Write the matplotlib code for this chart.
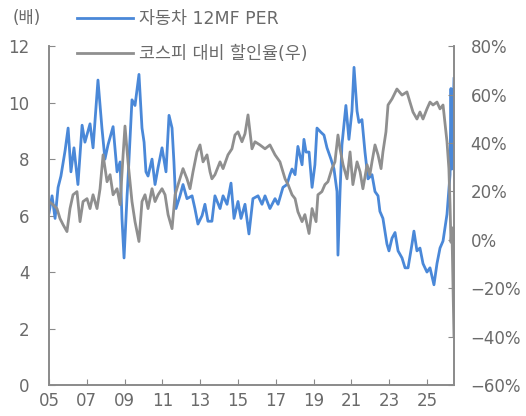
import matplotlib
matplotlib.use("Agg")
import matplotlib.pyplot as plt

plt.rcParams["font.family"] = ["DejaVu Sans", "Noto Sans CJK KR"]
plt.rcParams["axes.unicode_minus"] = True

# data (decimal year, value)
per_year = [2005.00, 2005.16, 2005.32, 2005.48, 2005.63, 2005.85, 2006.01, 2006.16, 2006.32, 2006.53,
            2006.75, 2006.90, 2007.17, 2007.33, 2007.59, 2007.80, 2007.96, 2008.12, 2008.39, 2008.60,
            2008.76, 2008.86, 2008.97, 2009.13, 2009.18, 2009.39, 2009.55, 2009.76, 2009.92, 2010.03,
            2010.13, 2010.24, 2010.45, 2010.61, 2010.77, 2010.98, 2011.19, 2011.35, 2011.51, 2011.61,
            2011.72, 2011.93, 2012.09, 2012.30, 2012.57, 2012.72, 2012.88, 2013.10, 2013.25, 2013.41,
            2013.62, 2013.78, 2014.05, 2014.21, 2014.42, 2014.63, 2014.79, 2015.00, 2015.16, 2015.37,
            2015.58, 2015.79, 2016.06, 2016.27, 2016.43, 2016.69, 2016.96, 2017.12, 2017.38, 2017.59,
            2017.75, 2017.86, 2018.02, 2018.17, 2018.39, 2018.49, 2018.60, 2018.76, 2018.92, 2019.07,
            2019.18, 2019.39, 2019.55, 2019.71, 2019.92, 2020.08, 2020.24, 2020.29, 2020.40, 2020.50,
            2020.71, 2020.87, 2021.03, 2021.14, 2021.30, 2021.40, 2021.56, 2021.72, 2021.88, 2022.09,
            2022.25, 2022.41, 2022.51, 2022.67, 2022.88, 2022.99, 2023.15, 2023.31, 2023.47, 2023.68,
            2023.84, 2024.00, 2024.21, 2024.31, 2024.47, 2024.63, 2024.79, 2025.00, 2025.16, 2025.37,
            2025.53, 2025.69, 2025.85, 2026.06, 2026.22, 2026.27, 2026.32, 2026.43]
per = [6.1, 6.7, 5.9, 7.0, 7.4, 8.3, 9.1, 7.55, 8.4, 7.1,
       9.2, 8.6, 9.25, 8.4, 10.8, 9.1, 8.0, 8.5, 9.15, 7.55,
       7.9, 5.9, 4.5, 6.7, 7.3, 10.1, 9.9, 11.0, 9.1, 8.6,
       7.55, 7.4, 8.0, 7.1, 7.7, 8.4, 7.55, 9.55, 9.1, 7.9,
       6.25, 6.7, 7.1, 6.6, 6.7, 6.25, 5.7, 6.0, 6.4, 5.8,
       5.8, 6.7, 6.25, 6.7, 6.4, 7.15, 5.9, 6.5, 5.9, 6.4,
       5.35, 6.6, 6.7, 6.4, 6.7, 6.25, 6.6, 6.4, 7.0, 7.1,
       7.45, 7.65, 7.45, 8.45, 7.8, 8.7, 8.25, 8.25, 7.0, 7.8,
       9.1, 8.95, 8.85, 8.4, 8.0, 7.65, 6.85, 4.6, 6.85, 8.5,
       9.9, 8.7, 9.7, 11.25, 9.7, 9.3, 9.4, 8.25, 7.3, 7.45,
       6.85, 6.7, 6.15, 5.9, 5.0, 4.75, 5.2, 5.4, 4.75, 4.5,
       4.15, 4.15, 5.0, 5.45, 4.75, 4.85, 4.3, 4.0, 4.15, 3.55,
       4.3, 4.85, 5.1, 6.05, 7.45, 10.5, 7.65, 10.85]

disc_year = [2005.00, 2005.21, 2005.42, 2005.58, 2005.74, 2005.95, 2006.11, 2006.27, 2006.48, 2006.64,
             2006.80, 2007.01, 2007.17, 2007.33, 2007.54, 2007.70, 2007.86, 2008.07, 2008.23, 2008.39,
             2008.60, 2008.76, 2008.92, 2009.02, 2009.18, 2009.39, 2009.55, 2009.76, 2009.92, 2010.08,
             2010.24, 2010.45, 2010.61, 2010.77, 2010.98, 2011.14, 2011.30, 2011.51, 2011.67, 2011.83,
             2012.09, 2012.30, 2012.46, 2012.62, 2012.83, 2012.99, 2013.15, 2013.36, 2013.52, 2013.62,
             2013.78, 2014.05, 2014.21, 2014.47, 2014.68, 2014.84, 2015.00, 2015.21, 2015.37, 2015.53,
             2015.74, 2015.90, 2016.16, 2016.43, 2016.69, 2016.96, 2017.22, 2017.49, 2017.65, 2017.86,
             2018.02, 2018.17, 2018.39, 2018.54, 2018.76, 2018.92, 2019.13, 2019.23, 2019.44, 2019.60,
             2019.76, 2019.97, 2020.13, 2020.29, 2020.40, 2020.56, 2020.77, 2020.93, 2021.08, 2021.30,
             2021.46, 2021.61, 2021.83, 2021.98, 2022.09, 2022.25, 2022.41, 2022.57, 2022.67, 2022.83,
             2022.94, 2023.15, 2023.41, 2023.68, 2023.94, 2024.10, 2024.26, 2024.47, 2024.63, 2024.79,
             2025.00, 2025.16, 2025.32, 2025.53, 2025.69, 2025.85, 2026.06, 2026.16, 2026.22, 2026.27,
             2026.32, 2026.38, 2026.43]
disc = [15.8, 14.5, 12.9, 8.8, 6.3, 3.4, 12.9, 18.6, 19.9, 7.5,
        15.8, 17.0, 12.9, 18.6, 12.9, 21.1, 35.1, 24.0, 26.9, 18.6,
        21.1, 14.5, 35.1, 47.0, 32.2, 15.8, 7.5, -0.7, 15.8, 18.6,
        12.9, 21.1, 15.8, 18.6, 21.1, 18.6, 10.4, 4.6, 18.6, 22.8,
        29.4, 25.2, 21.1, 28.1, 36.3, 39.2, 32.2, 35.1, 28.1, 25.2,
        26.9, 32.2, 29.4, 35.1, 37.6, 43.3, 44.6, 40.5, 43.8, 51.6,
        37.6, 40.5, 39.2, 37.6, 39.2, 35.1, 32.2, 25.2, 22.8, 18.6,
        17.0, 11.6, 7.5, 10.4, 2.6, 12.9, 7.5, 18.6, 19.9, 22.8,
        24.0, 29.4, 32.2, 43.3, 37.6, 31.0, 25.2, 36.3, 22.8, 32.2,
        28.1, 21.1, 31.0, 26.9, 32.2, 39.2, 35.1, 29.4, 36.3, 44.6,
        55.7, 58.2, 62.3, 59.8, 61.1, 56.9, 52.8, 49.9, 52.8, 49.9,
        54.1, 56.9, 55.7, 56.9, 54.1, 55.7, 40.5, 29.4, 14.5, -1.0,
        5.0, -20.0, -40.0]

x_ticks = list(range(2005, 2026, 2))
x_labels = ["05", "07", "09", "11", "13", "15", "17", "19", "21", "23", "25"]
left_ticks = [0, 2, 4, 6, 8, 10, 12]
right_ticks = [-60, -40, -20, 0, 20, 40, 60, 80]
right_labels = ["\u221260%", "\u221240%", "\u221220%", "0%", "20%", "40%", "60%", "80%"]

blue = "#4a88d8"
grey = "#8f8f8f"
txt = "#6a6a6a"
spine_col = "#8a8a8a"
fs = 12

fig = plt.figure(figsize=(5.26, 4.16), dpi=100)
ax = fig.add_axes([0.0932, 0.0745, 0.7699, 0.8145])
ax2 = ax.twinx()

l1, = ax.plot(per_year, per, color=blue, lw=2.0, label="자동차 12MF PER")
l2, = ax2.plot(disc_year, disc, color=grey, lw=2.0, label="코스피 대비 할인율(우)")

ax.set_xlim(2005, 2026.43)
ax.set_ylim(0, 12)
ax2.set_ylim(-60, 80)
ax.set_xticks(x_ticks)
ax.set_xticklabels(x_labels)
ax.set_yticks(left_ticks)
ax2.set_yticks(right_ticks)
ax2.set_yticklabels(right_labels)

for a in (ax, ax2):
    a.spines["top"].set_visible(False)
    for s in ("left", "right", "bottom"):
        a.spines[s].set_color(spine_col)
        a.spines[s].set_linewidth(1.2)
ax.tick_params(axis="y", direction="in", length=4, pad=14, colors=spine_col, labelcolor=txt, labelsize=fs)
ax.tick_params(axis="x", direction="in", length=4, pad=5, colors=spine_col, labelcolor=txt, labelsize=fs)
ax2.tick_params(axis="y", direction="in", length=4, pad=12, colors=spine_col, labelcolor=txt, labelsize=fs)

fig.text(13 / 526, 1 - 18 / 416, "(배)", ha="left", va="center", fontsize=fs, color=txt)
fig.legend(handles=[l1, l2], loc="upper left", bbox_to_anchor=(77 / 526, 1 - 10 / 416),
           frameon=False, fontsize=12.5, handlelength=3.2, handletextpad=0.35,
           labelspacing=1.0, borderpad=0, borderaxespad=0, labelcolor=txt)

fig.savefig("out.png", dpi=100)
